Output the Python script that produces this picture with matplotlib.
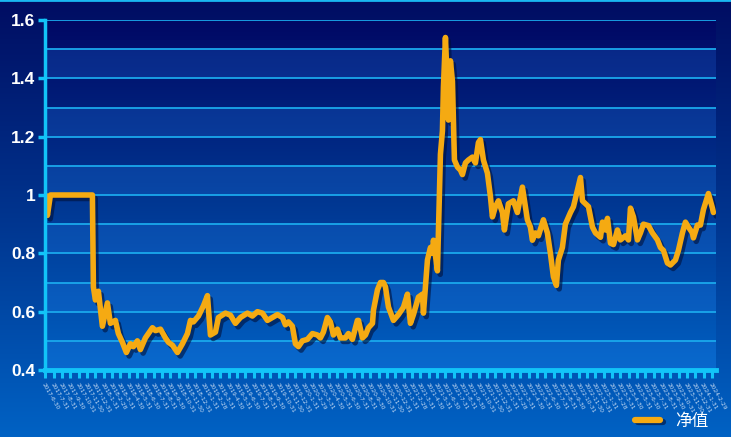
import numpy as np
import pandas as pd
import matplotlib
matplotlib.use("Agg")
import matplotlib.pyplot as plt
import matplotlib.patheffects as pe
from matplotlib.colors import LinearSegmentedColormap
from matplotlib.lines import Line2D

# ---- data (x positions in tick units, NAV values) ----
pos = [0, 0.24, 0.60, 5.64, 5.76, 6.00, 6.36, 6.84, 7.44, 7.80, 8.40, 8.76, 9.24, 9.72,
       10.20, 10.56, 11.04, 11.40, 12.00, 12.85, 13.21, 13.81, 14.41, 14.77, 15.25, 15.85,
       16.45, 17.05, 17.41, 17.77, 18.37, 18.97, 19.45, 19.81, 20.41, 20.77, 21.61, 22.21,
       22.81, 23.41, 24.25, 24.85, 25.45, 26.05, 26.65, 27.25, 27.85, 28.45, 28.81, 29.17,
       29.65, 30.01, 30.37, 30.85, 31.45, 32.05, 32.65, 33.01, 33.37, 33.85, 34.21, 34.57,
       35.05, 35.41, 36.01, 36.37, 36.85, 37.45, 37.58, 38.06, 38.42, 38.78, 39.26, 39.38,
       39.86, 40.22, 40.58, 40.82, 41.18, 41.78, 42.38, 42.98, 43.46, 43.82, 44.18, 44.78,
       45.26, 45.38, 45.86, 46.22, 46.46, 46.58, 47.06, 47.42, 47.66, 47.78, 48.02, 48.26,
       48.38, 48.62, 48.86, 48.98, 49.10, 49.46, 49.82, 50.06, 50.42, 50.78, 51.26, 51.62,
       51.98, 52.22, 52.58, 53.06, 53.42, 53.66, 54.02, 54.38, 54.86, 55.10, 55.58, 56.18,
       56.66, 57.26, 57.62, 57.86, 58.22, 58.46, 58.82, 59.18, 59.78, 60.26, 60.62, 60.98,
       61.34, 61.58, 62.06, 62.42, 63.03, 63.39, 63.87, 64.23, 64.47, 64.83, 65.19, 65.67,
       66.03, 66.63, 66.87, 67.23, 67.47, 67.83, 68.19, 68.67, 69.03, 69.63, 69.99, 70.23,
       70.59, 71.07, 71.43, 71.79, 72.39, 72.87, 73.47, 73.83, 74.19, 74.67, 75.03, 75.63,
       75.99, 76.47, 76.83, 77.19, 77.67, 77.79, 78.27, 78.63, 78.99, 79.59, 80.07, 80.19]
nav = [1.0, 0.93, 1.0, 1.0, 0.685, 0.64, 0.67, 0.55, 0.63, 0.56, 0.57, 0.525, 0.495, 0.46,
       0.49, 0.48, 0.50, 0.47, 0.51, 0.545, 0.535, 0.54, 0.51, 0.495, 0.485, 0.46,
       0.49, 0.525, 0.57, 0.565, 0.585, 0.62, 0.655, 0.52, 0.53, 0.58, 0.595, 0.588,
       0.56, 0.58, 0.595, 0.585, 0.60, 0.595, 0.57, 0.58, 0.59, 0.58, 0.555, 0.565,
       0.55, 0.49, 0.48, 0.50, 0.505, 0.525, 0.52, 0.51, 0.53, 0.58, 0.565, 0.52,
       0.54, 0.51, 0.51, 0.525, 0.505, 0.57, 0.57, 0.51, 0.52, 0.545, 0.56, 0.605,
       0.675, 0.70, 0.70, 0.685, 0.616, 0.57, 0.59, 0.615, 0.66, 0.56, 0.59, 0.65,
       0.66, 0.595, 0.777, 0.82, 0.80, 0.845, 0.74, 1.14, 1.22, 1.37, 1.54, 1.37,
       1.257, 1.46, 1.39, 1.26, 1.12, 1.096, 1.085, 1.07, 1.11, 1.12, 1.13, 1.11,
       1.18, 1.19, 1.12, 1.075, 0.995, 0.925, 0.96, 0.98, 0.94, 0.88, 0.97, 0.98,
       0.94, 1.027, 0.96, 0.915, 0.89, 0.845, 0.87, 0.86, 0.915, 0.87, 0.80, 0.72,
       0.69, 0.777, 0.82, 0.90, 0.94, 0.96, 1.017, 1.06, 0.98, 0.97, 0.96, 0.89,
       0.87, 0.855, 0.907, 0.88, 0.92, 0.835, 0.83, 0.88, 0.846, 0.86, 0.846, 0.955,
       0.925, 0.846, 0.87, 0.90, 0.895, 0.87, 0.846, 0.82, 0.81, 0.767, 0.76, 0.777,
       0.81, 0.87, 0.907, 0.89, 0.87, 0.853, 0.897, 0.897, 0.95, 1.005, 0.955, 0.94]

tick_labels = [d.strftime("%Y-") + str(d.month) + "-" + str(d.day)
               for d in pd.date_range("2017-06-30", periods=81, freq="ME")]
y_ticks = [0.4, 0.6, 0.8, 1.0, 1.2, 1.4, 1.6]
y_tick_labels = ["0.4", "0.6", "0.8", "1", "1.2", "1.4", "1.6"]
series_name = "净值"

W, H = 731, 437
fig = plt.figure(figsize=(W / 100, H / 100), dpi=100)

# figure background gradient
bg = fig.add_axes([0, 0, 1, 1], zorder=-10)
cm_bg = LinearSegmentedColormap.from_list("bg", ["#000d62", "#00358f", "#0062c4"])
bg.imshow(np.linspace(0, 1, 256).reshape(-1, 1), aspect="auto", cmap=cm_bg,
          extent=[0, 1, 0, 1], origin="upper")
bg.axhline(0.999, color="#19b8f2", lw=2)
bg.set_xlim(0, 1); bg.set_ylim(0, 1)
bg.axis("off")

ax = fig.add_axes([45 / W, 1 - 370 / H, 671 / W, 350 / H])
ax.set_xlim(-0.05, 80.5)
ax.set_ylim(0.4, 1.6)

cm_pl = LinearSegmentedColormap.from_list("pl", ["#000864", "#003590", "#0060c2"])
ax.imshow(np.linspace(0, 1, 256).reshape(-1, 1), aspect="auto", cmap=cm_pl,
          extent=[-0.05, 80.5, 0.4, 1.6], origin="upper", zorder=0)
for lo in [0.4, 0.6, 0.8, 1.0, 1.2, 1.4]:
    ax.axhspan(lo, lo + 0.1, color="#2a90ff", alpha=0.2, lw=0, zorder=0.5)
for g in np.arange(0.5, 1.65, 0.1):
    ax.axhline(g, color="#1aa8ec", lw=1.3, zorder=1)

line, = ax.plot(pos, nav, color="#f5aa12", lw=4, solid_joinstyle="round",
                solid_capstyle="round", zorder=5)
line.set_path_effects([pe.SimpleLineShadow(offset=(2, -2.5), shadow_color="#00103a", alpha=0.6),
                       pe.Normal()])

for s in ["top", "right"]:
    ax.spines[s].set_visible(False)
ax.spines["left"].set_color("#12c4f8")
ax.spines["left"].set_linewidth(2.5)
ax.spines["bottom"].set_color("#12c4f8")
ax.spines["bottom"].set_linewidth(3.5)
ax.spines["left"].set_zorder(6)
ax.spines["bottom"].set_zorder(6)

ax.set_yticks(y_ticks)
ax.set_yticklabels(y_tick_labels, color="white", fontsize=12.5, fontweight="bold",
                   family="Liberation Sans")
ax.tick_params(axis="y", length=5, width=2.5, color="#12c4f8", pad=2)

ax.set_xticks(range(len(tick_labels)))
ax.set_xticklabels(tick_labels, rotation=-60, ha="left", va="top", fontsize=4.2,
                   color="#c8dcf4", rotation_mode="anchor")
ax.tick_params(axis="x", length=6, width=2.2, color="#12c4f8", pad=3)

leg_handle = Line2D([0], [0], color="#f5aa12", lw=4.5, solid_capstyle="round",
                    path_effects=[pe.SimpleLineShadow(offset=(1.5, -1.5), shadow_color="#00103a", alpha=0.6),
                                  pe.Normal()])
leg = fig.legend([leg_handle], [series_name], loc="lower right",
                 bbox_to_anchor=(0.99, -0.018), frameon=False, handlelength=1.5,
                 handletextpad=0.9,
                 prop={"family": ["Noto Sans CJK SC", "DejaVu Sans"], "size": 12})
for t in leg.get_texts():
    t.set_color("white")

fig.savefig("out.png", dpi=100)
